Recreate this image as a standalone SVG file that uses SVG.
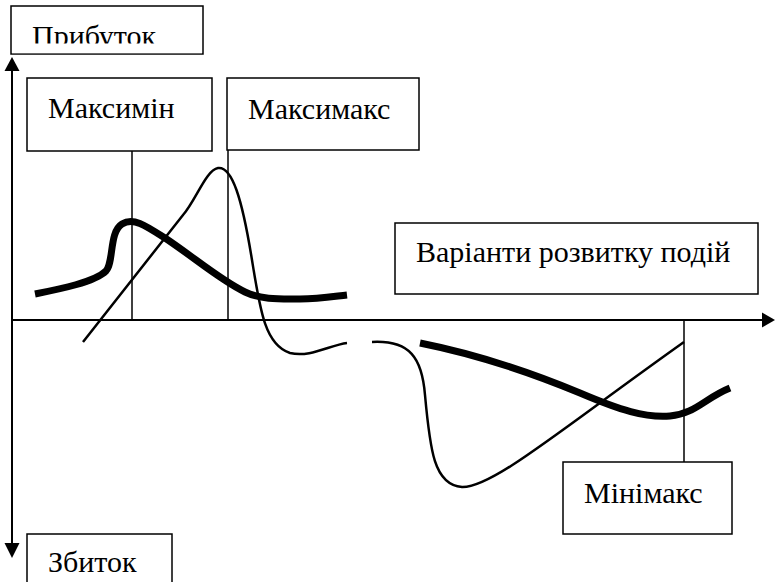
<svg xmlns="http://www.w3.org/2000/svg" width="775" height="582" viewBox="0 0 775 582">
  <rect width="775" height="582" fill="#fff"/>

  <!-- axes -->
  <g id="axes" stroke="#000" stroke-width="2" fill="#000">
    <line x1="12" y1="68" x2="12" y2="545"/>
    <polygon points="12,57 4.5,71 19.5,71" stroke="none"/>
    <polygon points="12,558 4.5,543 19.5,543" stroke="none"/>
    <line x1="12" y1="320" x2="764" y2="320"/>
    <polygon points="775,320 762,312.5 762,327.5" stroke="none"/>
  </g>

  <!-- connectors: guide lines from labels to the axis -->
  <g id="connectors" stroke="#000" stroke-width="1.5" fill="none">
    <line x1="132" y1="151" x2="132" y2="320"/>
    <line x1="228" y1="150" x2="228" y2="320"/>
    <line x1="684" y1="320" x2="684" y2="462"/>
  </g>

  <!-- curves -->
  <g id="curves" stroke="#000" fill="none">
    <!-- thick profit curve -->
    <path stroke-width="7" d="M35,294 C60,289 95,282 106,271 C114,262 109,232 122,224 C133,217 145,225 165,238 C195,258 220,280 245,292 C262,300 280,299 300,299 C318,299 330,297 347,295"/>
    <!-- thin profit curve -->
    <path stroke-width="2.5" d="M83,342 L183,215 C196,200 206,170 218,168 C232,166 242,198 252,260 C260,310 265,345 290,353 C310,358 330,345 347,343"/>
    <!-- thin loss curve -->
    <path stroke-width="2.5" d="M372,342 C410,340 422,358 425,395 C430,450 434,485 462,487 C492,488 560,430 684,342"/>
    <!-- thick loss curve -->
    <path stroke-width="7" d="M420,343 C470,353 520,368 580,393 C620,410 645,418 670,416 C695,414 705,398 730,388"/>
  </g>

  <g id="profit">
    <rect x="11" y="6" width="192" height="48" fill="#fff" stroke="#000" stroke-width="1.5"/>
    <text x="32" y="46" font-family="Liberation Serif" font-size="30">Прибуток</text>
    <!-- the label sits low in its frame; its lower edge is hidden -->
    <rect x="12" y="43.5" width="190" height="9.7" fill="#fff"/>
  </g>

  <g id="maximin">
    <rect x="27" y="78" width="185" height="73" fill="#fff" stroke="#000" stroke-width="1.5"/>
    <text x="48" y="118" font-family="Liberation Serif" font-size="30">Максимін</text>
  </g>

  <g id="maximax">
    <rect x="227" y="78" width="192" height="72" fill="#fff" stroke="#000" stroke-width="1.5"/>
    <text x="248" y="119" font-family="Liberation Serif" font-size="30">Максимакс</text>
  </g>

  <g id="scenarios">
    <rect x="395" y="223" width="363" height="71" fill="#fff" stroke="#000" stroke-width="1.5"/>
    <text x="416" y="262" font-family="Liberation Serif" font-size="30">Варіанти розвитку подій</text>
  </g>

  <g id="minimax">
    <rect x="563" y="462" width="169" height="72" fill="#fff" stroke="#000" stroke-width="1.5"/>
    <text x="584" y="503" font-family="Liberation Serif" font-size="30">Мінімакс</text>
  </g>

  <g id="loss">
    <rect x="27" y="534" width="145" height="60" fill="#fff" stroke="#000" stroke-width="1.5"/>
    <text x="48" y="572" font-family="Liberation Serif" font-size="30">Збиток</text>
  </g>
</svg>
